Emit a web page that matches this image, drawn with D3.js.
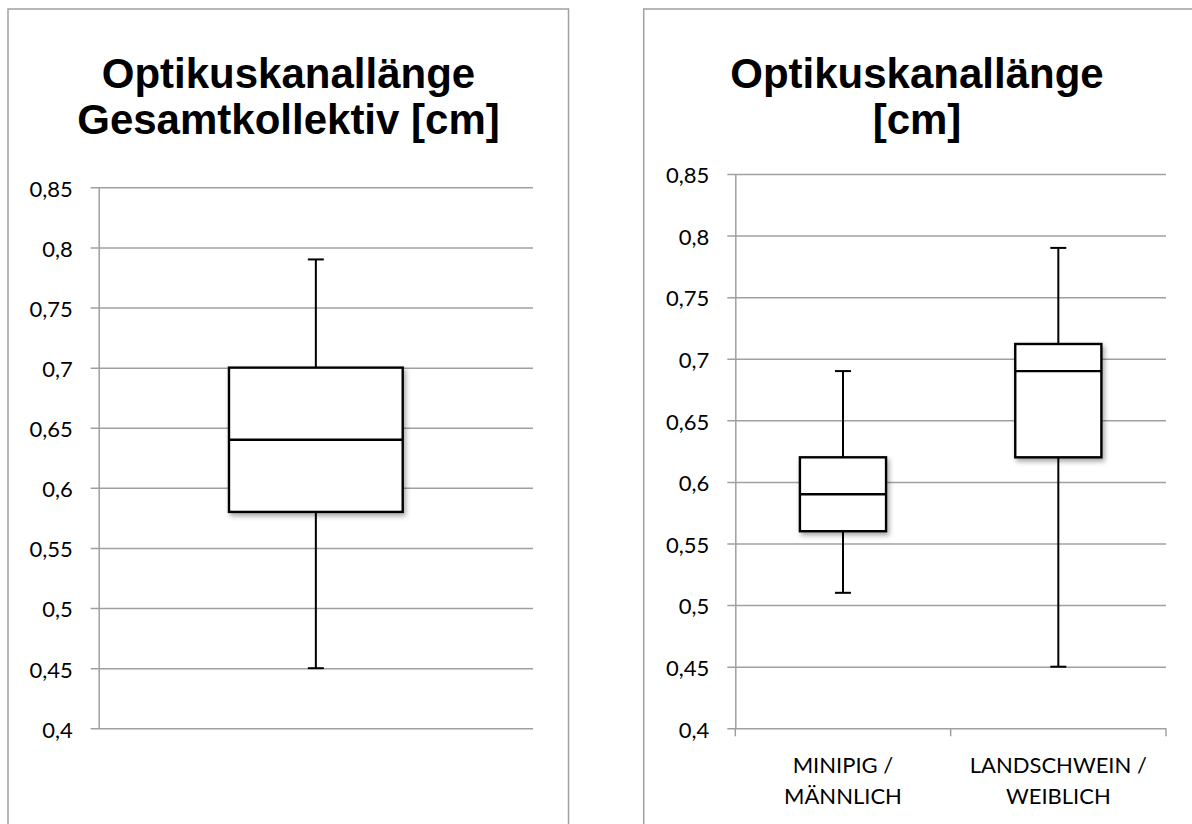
<!DOCTYPE html>
<html>
<head>
<meta charset="utf-8">
<script src="https://cdn.jsdelivr.net/npm/d3@7"></script>
<style>
  body { margin: 0; background: #fff; }
  svg { display: block; }
  .tick-label { font-family: Lato, "Open Sans", sans-serif; font-size: 22px; fill: #000; }
  .cat-label { font-family: Lato, "Open Sans", sans-serif; font-size: 22px; fill: #000; }
  .title { font-family: "Liberation Sans", Arial, sans-serif; font-size: 42px; font-weight: bold; fill: #000; }
</style>
</head>
<body>
<svg id="chart" width="1192" height="824"></svg>
<script>
// y axis ticks (same on both charts)
const yTicks = [0.4, 0.45, 0.5, 0.55, 0.6, 0.65, 0.7, 0.75, 0.8, 0.85];

// left chart: whole collective
const totalTitle = ["Optikuskanallänge", "Gesamtkollektiv [cm]"];
const totalNames = ["Gesamt"];
const totalMin    = [0.45];
const totalQ1     = [0.58];
const totalMedian = [0.64];
const totalQ3     = [0.70];
const totalMax    = [0.79];

// right chart: by group
const groupTitle = ["Optikuskanallänge", "[cm]"];
const groupNames = ["MINIPIG / MÄNNLICH", "LANDSCHWEIN / WEIBLICH"];
const groupMin    = [0.51, 0.45];
const groupQ1     = [0.56, 0.62];
const groupMedian = [0.59, 0.69];
const groupQ3     = [0.62, 0.712];
const groupMax    = [0.69, 0.79];

const de = d3.formatLocale({decimal: ",", thousands: ".", grouping: [3], currency: ["", " €"]});
const fmt = de.format("~g");

const svg = d3.select("#chart");

// soft shadow under the boxes
const defs = svg.append("defs");
defs.append("filter")
    .attr("id", "shadow")
    .attr("x", "-10%").attr("y", "-10%")
    .attr("width", "130%").attr("height", "130%")
  .append("feDropShadow")
    .attr("dx", 2).attr("dy", 3)
    .attr("stdDeviation", 2.5)
    .attr("flood-color", "#000")
    .attr("flood-opacity", 0.35);

const gridColor = "#a0a0a0";

function drawPanel(opt) {
    const g = svg.append("g");

    // panel frame
    g.append("rect")
        .attr("x", opt.frame[0]).attr("y", opt.frame[1])
        .attr("width", opt.frame[2]).attr("height", opt.frame[3])
        .attr("fill", "none")
        .attr("stroke", gridColor)
        .attr("stroke-width", 1.5);

    // title
    const t = g.append("text")
        .attr("class", "title")
        .attr("text-anchor", "middle");
    opt.title.forEach((line, i) => {
        t.append("tspan")
            .attr("x", opt.titleX)
            .attr("y", opt.titleY + i * 46)
            .text(line);
    });

    const y = d3.scaleLinear()
        .domain([yTicks[0], yTicks[yTicks.length - 1]])
        .range([opt.bottom, opt.top]);

    const x = d3.scaleBand()
        .domain(opt.names)
        .range([opt.left, opt.right])
        .padding(0);

    // grid lines + y ticks
    const yAxis = g.append("g")
        .attr("transform", `translate(${opt.left},0)`)
        .call(d3.axisLeft(y)
            .tickValues(yTicks)
            .tickFormat(fmt)
            .tickSizeInner(-(opt.right - opt.left))
            .tickSizeOuter(0)
            .tickPadding(26));
    yAxis.attr("font-size", null).attr("font-family", null);
    yAxis.select(".domain")
        .attr("stroke", gridColor)
        .attr("stroke-width", 1.5);
    yAxis.selectAll(".tick line")
        .attr("stroke", gridColor)
        .attr("stroke-width", 1.5)
        .attr("x1", -8);
    yAxis.selectAll(".tick text")
        .attr("class", "tick-label")
        .attr("dy", "0.4em");

    // category axis (right chart only)
    if (opt.catLabels) {
        const edges = x.domain().map(d => x(d)).concat([opt.right]);
        g.selectAll(".cat-tick")
            .data(edges)
            .join("line")
            .attr("x1", d => d).attr("x2", d => d)
            .attr("y1", opt.bottom).attr("y2", opt.bottom + 8)
            .attr("stroke", gridColor)
            .attr("stroke-width", 1.5);

        const labels = g.selectAll(".cat")
            .data(opt.names)
            .join("text")
            .attr("class", "cat-label")
            .attr("text-anchor", "middle");
        labels.each(function(d) {
            const parts = d.split("/ ");
            const el = d3.select(this);
            el.append("tspan")
                .attr("x", x(d) + x.bandwidth() / 2)
                .attr("y", opt.bottom + 45)
                .text(parts[0] + "/");
            el.append("tspan")
                .attr("x", x(d) + x.bandwidth() / 2)
                .attr("y", opt.bottom + 76)
                .text(parts[1]);
        });
    }

    // box plots
    const boxW = x.bandwidth() * 0.4;
    const capW = 16;
    const items = opt.names.map((name, i) => ({
        name, min: opt.min[i], q1: opt.q1[i], median: opt.median[i], q3: opt.q3[i], max: opt.max[i]
    }));

    const box = g.selectAll(".box")
        .data(items)
        .join("g")
        .attr("class", "box");
    const cx = d => x(d.name) + x.bandwidth() / 2;

    // whiskers
    box.append("line")
        .attr("x1", cx).attr("x2", cx)
        .attr("y1", d => y(d.max)).attr("y2", d => y(d.min))
        .attr("stroke", "#000").attr("stroke-width", 2);
    box.append("line")
        .attr("x1", d => cx(d) - capW / 2).attr("x2", d => cx(d) + capW / 2)
        .attr("y1", d => y(d.max)).attr("y2", d => y(d.max))
        .attr("stroke", "#000").attr("stroke-width", 2);
    box.append("line")
        .attr("x1", d => cx(d) - capW / 2).attr("x2", d => cx(d) + capW / 2)
        .attr("y1", d => y(d.min)).attr("y2", d => y(d.min))
        .attr("stroke", "#000").attr("stroke-width", 2);

    // box
    box.append("rect")
        .attr("x", d => cx(d) - boxW / 2)
        .attr("y", d => y(d.q3))
        .attr("width", boxW)
        .attr("height", d => y(d.q1) - y(d.q3))
        .attr("fill", "#fff")
        .attr("stroke", "#000")
        .attr("stroke-width", 2.4)
        .attr("filter", "url(#shadow)");

    // median
    box.append("line")
        .attr("x1", d => cx(d) - boxW / 2).attr("x2", d => cx(d) + boxW / 2)
        .attr("y1", d => y(d.median)).attr("y2", d => y(d.median))
        .attr("stroke", "#000").attr("stroke-width", 2.4);
}

drawPanel({
    frame: [8, 9, 560.5, 830],
    title: totalTitle, titleX: 288.5, titleY: 88,
    left: 98.7, right: 533, top: 187.3, bottom: 728.3,
    names: totalNames,
    min: totalMin, q1: totalQ1, median: totalMedian, q3: totalQ3, max: totalMax,
    catLabels: false
});

drawPanel({
    frame: [643.7, 9, 600, 830],
    title: groupTitle, titleX: 917, titleY: 88,
    left: 735.3, right: 1166, top: 174, bottom: 728.3,
    names: groupNames,
    min: groupMin, q1: groupQ1, median: groupMedian, q3: groupQ3, max: groupMax,
    catLabels: true
});
</script>
</body>
</html>
